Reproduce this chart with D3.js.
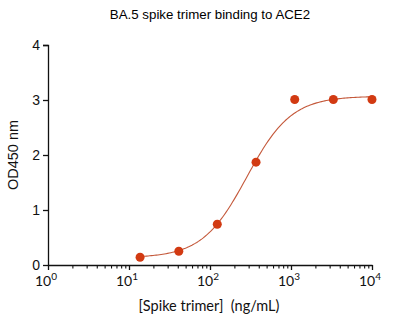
<!DOCTYPE html>
<html>
<head>
<meta charset="utf-8">
<script src="https://cdn.jsdelivr.net/npm/d3@7"></script>
<style>
  body { margin: 0; background: #fff; }
</style>
</head>
<body>
<div id="vis"></div>
<script>
// data: 3-fold dilution series of spike trimer (ng/mL) and measured OD450
var conc = [13.7, 41.2, 123, 370, 1111, 3333, 10000];
var od = [0.14, 0.25, 0.74, 1.87, 3.01, 3.01, 3.01];

// 4PL fit (bottom, top, EC50, hill)
var fitBottom = 0.13, fitTop = 3.07, fitEC50 = 285, fitHill = 1.58;

var yTicks = [0, 1, 2, 3, 4];
var xDecades = [1, 10, 100, 1000, 10000];

var W = 406, H = 322;
var margin = {top: 45, right: 34, bottom: 57, left: 48};
var w = W - margin.left - margin.right,
    h = H - margin.top - margin.bottom;

var svg = d3.select('#vis').append('svg')
    .attr('width', W)
    .attr('height', H);

svg.append('text')
    .attr('x', 210)
    .attr('y', 19)
    .attr('text-anchor', 'middle')
    .style('font-family', 'Liberation Sans, Arial, sans-serif')
    .style('font-size', '13.3px')
    .text('BA.5 spike trimer binding to ACE2');

var g = svg.append('g')
    .attr('transform', 'translate(' + margin.left + ',' + margin.top + ')');

var x = d3.scaleLog().domain([1, 10000]).range([0, w]);
var y = d3.scaleLinear().domain([0, 4]).range([h, 0]);

// y axis
var yAxis = g.append('g')
    .call(d3.axisLeft(y).tickValues(yTicks).tickFormat(d3.format('d')).tickSize(5).tickPadding(3));
yAxis.select('.domain').attr('d', 'M-5,0.5H0.5V' + (h + 0.5));
yAxis.selectAll('line, path').attr('stroke', '#111').attr('stroke-width', 1.3);
yAxis.selectAll('text')
    .style('font-family', 'Liberation Sans, Arial, sans-serif')
    .style('font-size', '14px')
    .attr('fill', '#111');

// x axis with minor ticks
var minor = [];
xDecades.slice(0, -1).forEach(function (d) {
  for (var k = 2; k <= 9; k++) minor.push(d * k);
});

var xAxis = g.append('g')
    .attr('transform', 'translate(0,' + h + ')')
    .call(d3.axisBottom(x).tickValues(xDecades).tickFormat('').tickSize(5).tickSizeOuter(0));
xAxis.selectAll('line, path').attr('stroke', '#111').attr('stroke-width', 1.3);

g.append('g')
    .attr('transform', 'translate(0,' + h + ')')
    .call(d3.axisBottom(x).tickValues(minor).tickFormat('').tickSize(3.5).tickSizeOuter(0))
  .call(function (s) { s.select('.domain').remove(); })
  .selectAll('line').attr('stroke', '#111').attr('stroke-width', 1.1);

var xl = g.append('g').selectAll('text')
    .data(xDecades)
  .enter().append('text')
    .attr('x', function (d) { return x(d) - 2; })
    .attr('y', h + 21)
    .attr('text-anchor', 'middle')
    .style('font-family', 'Lato, sans-serif')
    .style('font-size', '14px')
    .attr('fill', '#111');
xl.append('tspan').text('10');
xl.append('tspan')
    .attr('dy', -6.5)
    .style('font-size', '10px')
    .text(function (d) { return Math.round(Math.log10(d)); });

g.append('text')
    .attr('x', x(100) - 1)
    .attr('y', h + 46)
    .attr('text-anchor', 'middle')
    .style('font-family', 'Lato, sans-serif')
    .style('font-size', '14.5px')
    .attr('fill', '#111')
    .attr('xml:space', 'preserve')
    .text('[Spike trimer]  (ng/mL)');

svg.append('text')
    .attr('transform', 'translate(18,' + (margin.top + h / 2) + ') rotate(-90)')
    .attr('text-anchor', 'middle')
    .style('font-family', 'Liberation Sans, Arial, sans-serif')
    .style('font-size', '14.5px')
    .attr('fill', '#111')
    .text('OD450 nm');

// fitted curve
var logs = d3.range(Math.log10(conc[0]), Math.log10(conc[conc.length - 1]) + 0.001, 0.02);
var fit = logs.map(function (l) {
  var c = Math.pow(10, l);
  return [c, fitBottom + (fitTop - fitBottom) / (1 + Math.pow(fitEC50 / c, fitHill))];
});

var line = d3.line()
    .x(function (d) { return x(d[0]); })
    .y(function (d) { return y(d[1]); });

g.append('path')
    .datum(fit)
    .attr('fill', 'none')
    .attr('stroke', '#c4583a')
    .attr('stroke-width', 1.1)
    .attr('d', line);

g.selectAll('circle')
    .data(conc)
  .enter().append('circle')
    .attr('cx', function (d) { return x(d); })
    .attr('cy', function (d, i) { return y(od[i]); })
    .attr('r', 4.5)
    .attr('fill', '#d23a12');
</script>
</body>
</html>
